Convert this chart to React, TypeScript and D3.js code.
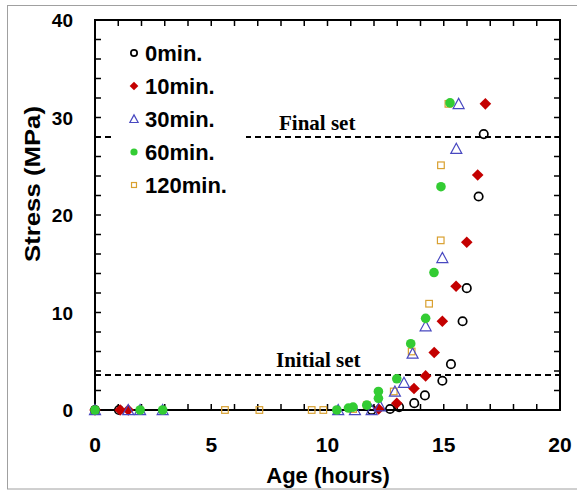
import React, { useRef, useEffect } from "react";
import * as d3 from "d3";

// Age (hours) / Stress (MPa) for each delay
const age0 = [0, 1.03, 11.9, 12.69, 13.08, 13.73, 14.19, 14.94, 15.31, 15.81, 15.99, 16.5, 16.72];
const stress0 = [0, 0, 0, 0.1, 0.3, 0.7, 1.5, 3.0, 4.7, 9.1, 12.5, 21.9, 28.3];

const age10 = [0, 1.08, 1.43, 12.2, 12.98, 13.72, 14.22, 14.59, 14.94, 15.53, 15.99, 16.46, 16.79];
const stress10 = [0, 0, 0, 0.1, 0.7, 2.2, 3.5, 5.9, 9.1, 12.7, 17.2, 24.1, 31.4];

const age30 = [0, 1.43, 1.94, 2.91, 10.46, 11.18, 11.9, 12.26, 12.9, 13.29, 13.66, 14.22, 14.94, 15.54, 15.64];
const stress30 = [0, 0, 0, 0, 0, 0, 0, 0.4, 1.9, 2.8, 5.8, 8.6, 15.6, 26.8, 31.4];

const age60 = [0, 1.94, 2.91, 10.4, 10.9, 11.1, 11.69, 12.19, 12.19, 12.98, 13.58, 14.22, 14.58, 14.88, 15.27];
const stress60 = [0, 0, 0, 0, 0.2, 0.3, 0.5, 1.2, 1.9, 3.2, 6.8, 9.4, 14.1, 22.9, 31.5];

const age120 = [0, 5.59, 7.07, 9.32, 9.82, 11.1, 11.69, 12.85, 13.62, 14.37, 14.87, 14.88, 15.2];
const stress120 = [0, 0, 0, 0, 0, 0.1, 0.5, 1.9, 6.0, 10.9, 17.4, 25.1, 31.4];

const legendLabels = ["0min.", "10min.", "30min.", "60min.", "120min."];
const xTickLabels = [0, 5, 10, 15, 20];
const yTickLabels = [0, 10, 20, 30, 40];
const initialSet = 3.6;
const finalSet = 28;

const series = [
  { label: legendLabels[0], xs: age0, ys: stress0, shape: "circle", color: "#000000" },
  { label: legendLabels[1], xs: age10, ys: stress10, shape: "diamond", color: "#c40000" },
  { label: legendLabels[2], xs: age30, ys: stress30, shape: "triangle", color: "#4848c0" },
  { label: legendLabels[3], xs: age60, ys: stress60, shape: "dot", color: "#33cc33" },
  { label: legendLabels[4], xs: age120, ys: stress120, shape: "square", color: "#d9a030" },
];

const W = 577;
const H = 493;
const SANS = "'Liberation Sans', Arial, sans-serif";
const SERIF = "'Liberation Serif', 'Times New Roman', serif";

function drawMarker(g, shape, color, x, y, k = 1) {
  if (shape === "circle") {
    g.append("circle").attr("cx", x).attr("cy", y).attr("r", 4.2 * k)
      .attr("fill", "none").attr("stroke", color).attr("stroke-width", 1.7);
  } else if (shape === "dot") {
    g.append("circle").attr("cx", x).attr("cy", y).attr("r", 4.8 * k).attr("fill", color);
  } else if (shape === "diamond") {
    const s = 5.8 * k;
    g.append("path").attr("d", `M${x},${y - s}L${x + s},${y}L${x},${y + s}L${x - s},${y}Z`)
      .attr("fill", color);
  } else if (shape === "triangle") {
    const s = 5.5 * k;
    g.append("path").attr("d", `M${x},${y - s}L${x + s},${y + s * 0.85}L${x - s},${y + s * 0.85}Z`)
      .attr("fill", "none").attr("stroke", color).attr("stroke-width", 1.2);
  } else if (shape === "square") {
    const s = 3.3 * k;
    g.append("rect").attr("x", x - s).attr("y", y - s).attr("width", 2 * s).attr("height", 2 * s)
      .attr("fill", "none").attr("stroke", color).attr("stroke-width", 1.2);
  }
}

const App = () => {
  const svgRef = useRef(null);

  useEffect(() => {
    const svg = d3.select(svgRef.current);
    svg.selectAll("*").remove();

    const x = d3.scaleLinear().domain([0, 20]).range([95, 560]);
    const y = d3.scaleLinear().domain([0, 40]).range([410, 20]);

    svg.append("rect").attr("width", W).attr("height", H).attr("fill", "#fff");
    svg.append("rect").attr("x", 7.5).attr("y", 5.5).attr("width", 575).attr("height", 483.5)
      .attr("fill", "none").attr("stroke", "#a0a0a0");

    // dashed set lines
    [initialSet, finalSet].forEach((v) => {
      svg.append("line")
        .attr("x1", x(0)).attr("x2", x(20)).attr("y1", y(v)).attr("y2", y(v))
        .attr("stroke", "#000").attr("stroke-width", 2).attr("stroke-dasharray", "6,4");
    });
    svg.append("text").attr("x", 276).attr("y", y(initialSet) - 8)
      .style("font-family", SERIF).style("font-weight", "bold").style("font-size", "21px")
      .text("Initial set");
    svg.append("text").attr("x", 279).attr("y", y(finalSet) - 7)
      .style("font-family", SERIF).style("font-weight", "bold").style("font-size", "21px")
      .text("Final set");

    // legend box
    const lg = svg.append("g");
    lg.append("rect").attr("x", 111).attr("y", 36).attr("width", 135).attr("height", 166).attr("fill", "#fff");

    // frame
    svg.append("rect").attr("x", x(0)).attr("y", y(40)).attr("width", x(20) - x(0)).attr("height", y(0) - y(40))
      .attr("fill", "none").attr("stroke", "#000").attr("stroke-width", 2);

    // inward ticks
    d3.range(0, 21, 1).forEach((t) => {
      svg.append("line").attr("x1", x(t)).attr("x2", x(t)).attr("y1", y(0)).attr("y2", y(0) - 6)
        .attr("stroke", "#000").attr("stroke-width", 1.5);
      svg.append("line").attr("x1", x(t)).attr("x2", x(t)).attr("y1", y(40)).attr("y2", y(40) + 6)
        .attr("stroke", "#000").attr("stroke-width", 1.5);
    });
    d3.range(0, 41, 2).forEach((t) => {
      svg.append("line").attr("x1", x(0)).attr("x2", x(0) + 6).attr("y1", y(t)).attr("y2", y(t))
        .attr("stroke", "#000").attr("stroke-width", 1.5);
      svg.append("line").attr("x1", x(20)).attr("x2", x(20) - 6).attr("y1", y(t)).attr("y2", y(t))
        .attr("stroke", "#000").attr("stroke-width", 1.5);
    });

    // tick labels
    xTickLabels.forEach((t) => {
      svg.append("text").attr("x", x(t)).attr("y", 452).attr("text-anchor", "middle")
        .style("font-family", SANS).style("font-weight", "bold").style("font-size", "21px")
        .text(t);
    });
    yTickLabels.forEach((t) => {
      svg.append("text").attr("x", 73).attr("y", y(t) + 7).attr("text-anchor", "end")
        .style("font-family", SANS).style("font-weight", "bold").style("font-size", "19px")
        .text(t);
    });

    // axis titles
    svg.append("text").attr("x", 328).attr("y", 483).attr("text-anchor", "middle")
      .style("font-family", SANS).style("font-weight", "bold").style("font-size", "22px")
      .text("Age (hours)");
    svg.append("text").attr("transform", `translate(40,184) rotate(-90)`).attr("text-anchor", "middle")
      .attr("textLength", 156).attr("lengthAdjust", "spacingAndGlyphs")
      .style("font-family", SANS).style("font-weight", "bold").style("font-size", "22px")
      .text("Stress (MPa)");

    // data points (120min at the back, 60min on top)
    const order = [4, 0, 1, 2, 3];
    const pts = svg.append("g");
    order.forEach((si) => {
      const s = series[si];
      s.xs.forEach((a, i) => drawMarker(pts, s.shape, s.color, x(a), y(s.ys[i])));
    });

    // legend entries
    series.forEach((s, i) => {
      const cy = 53 + i * 33;
      drawMarker(lg, s.shape, s.color, 134, cy, 0.75);
      lg.append("text").attr("x", 145).attr("y", cy + 8)
        .style("font-family", SANS).style("font-weight", "bold").style("font-size", "22px")
        .text(s.label);
    });
  }, []);

  return (
    <svg ref={svgRef} width={W} height={H}
      style={{ position: "absolute", left: 0, top: 0 }} />
  );
};

export default App;
